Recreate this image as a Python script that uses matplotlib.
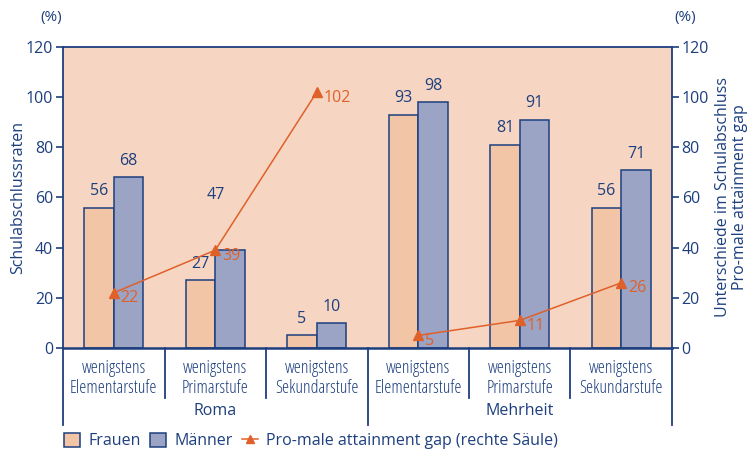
import numpy as np
import matplotlib.pyplot as plt
import matplotlib.transforms as mtransforms
from matplotlib.patches import Patch
from matplotlib.lines import Line2D

# data
stages = ["wenigstens\nElementarstufe", "wenigstens\nPrimarstufe", "wenigstens\nSekundarstufe"] * 2
groups = ["Roma", "Mehrheit"]
frauen = [56, 27, 5, 93, 81, 56]
maenner = [68, 39, 10, 98, 91, 71]
maenner_labels = ["68", "47", "10", "98", "91", "71"]
gap = [22, 39, 102, 5, 11, 26]

NAVY = "#1d3f7e"
ORANGE = "#e0602a"
BG = "#f6d6c2"
C_F = "#f3c5a7"
C_M = "#9ba4c4"

plt.rcParams["font.family"] = ["Open Sans", "DejaVu Sans"]

fig = plt.figure(figsize=(7.51, 4.51), dpi=100)
ax = fig.add_axes([0.0839, 0.2284, 0.8109, 0.6674])
ax.set_facecolor(BG)

x = np.arange(len(frauen))
w = 0.29
bf = ax.bar(x - w / 2, frauen, w, color=C_F, edgecolor=NAVY, linewidth=1.1)
bm = ax.bar(x + w / 2, maenner, w, color=C_M, edgecolor=NAVY, linewidth=1.1)

for i, v in enumerate(frauen):
    ax.annotate(str(v), (x[i] - w / 2, v), xytext=(0, 6), textcoords="offset points",
                ha="center", va="bottom", color=NAVY, fontsize=11.5)
for i, v in enumerate(maenner):
    if maenner_labels[i] != str(v):
        # label in the source does not match the bar; it sits over the group centre
        ax.text(x[i], 61, maenner_labels[i], ha="center", va="center", color=NAVY, fontsize=11.5)
    else:
        ax.annotate(maenner_labels[i], (x[i] + w / 2, v), xytext=(0, 6), textcoords="offset points",
                    ha="center", va="bottom", color=NAVY, fontsize=11.5)

ax.set_xlim(-0.5, 5.5)
ax.set_ylim(0, 120)
ax.set_yticks(range(0, 121, 20))
ax.set_xticks([])
for s in ax.spines.values():
    s.set_color(NAVY)
    s.set_linewidth(1.3)
ax.spines["bottom"].set_linewidth(1.8)
ax.tick_params(axis="y", colors=NAVY, labelsize=11.5, length=5, width=1.2, direction="out", pad=2)
ax.set_ylabel("Schulabschlussraten", color=NAVY, fontsize=11.5, labelpad=0)

ax2 = ax.twinx()
ax2.set_ylim(0, 120)
ax2.set_yticks(range(0, 121, 20))
for s in ax2.spines.values():
    s.set_visible(False)
ax2.tick_params(axis="y", colors=NAVY, labelsize=11.5, length=5, width=1.2, direction="out", pad=2)
ax2.set_ylabel("Unterschiede im Schulabschluss\nPro-male attainment gap", color=NAVY,
               fontsize=11.5, labelpad=4, linespacing=1.1)

for k in range(2):
    xs = x[k * 3:(k + 1) * 3]
    ys = gap[k * 3:(k + 1) * 3]
    ax2.plot(xs, ys, color=ORANGE, linewidth=1.1, marker="^", markersize=6.5)
    for xi, yi in zip(xs, ys):
        ax2.annotate(str(yi), (xi, yi), xytext=(5, -4), textcoords="offset points",
                     ha="left", va="center", color=ORANGE, fontsize=11.5)

fig.text(0.068, 0.962, "(%)", color=NAVY, fontsize=11, ha="center", va="center")
fig.text(0.912, 0.962, "(%)", color=NAVY, fontsize=11, ha="center", va="center")

# category axis below the plot
trans = mtransforms.blended_transform_factory(ax.transData, ax.transAxes)
for b in np.arange(-0.5, 6, 1.0):
    low = -0.256 if b in (-0.5, 2.5, 5.5) else -0.166
    ax.plot([b, b], [0, low], transform=trans, color=NAVY, linewidth=1.3, clip_on=False)
for i, s in enumerate(stages):
    ax.text(x[i], -0.1, s, transform=trans, ha="center", va="center", color=NAVY,
            fontsize=12.8, fontstretch="condensed", linespacing=1.1)
for k, g in enumerate(groups):
    ax.text(k * 3 + 1, -0.21, g, transform=trans, ha="center", va="center", color=NAVY, fontsize=11.5)

handles = [Patch(facecolor=C_F, edgecolor=NAVY, linewidth=1.1),
           Patch(facecolor=C_M, edgecolor=NAVY, linewidth=1.1),
           Line2D([], [], color=ORANGE, linewidth=1.1, marker="^", markersize=6)]
fig.legend(handles, ["Frauen", "Männer", "Pro-male attainment gap (rechte Säule)"],
           loc="center left", bbox_to_anchor=(0.075, 0.022), ncol=3, frameon=False,
           fontsize=11.5, labelcolor=NAVY, handlelength=1.0, handleheight=1.0,
           handletextpad=0.5, columnspacing=0.6, borderpad=0)

fig.savefig("out.png", dpi=100)
